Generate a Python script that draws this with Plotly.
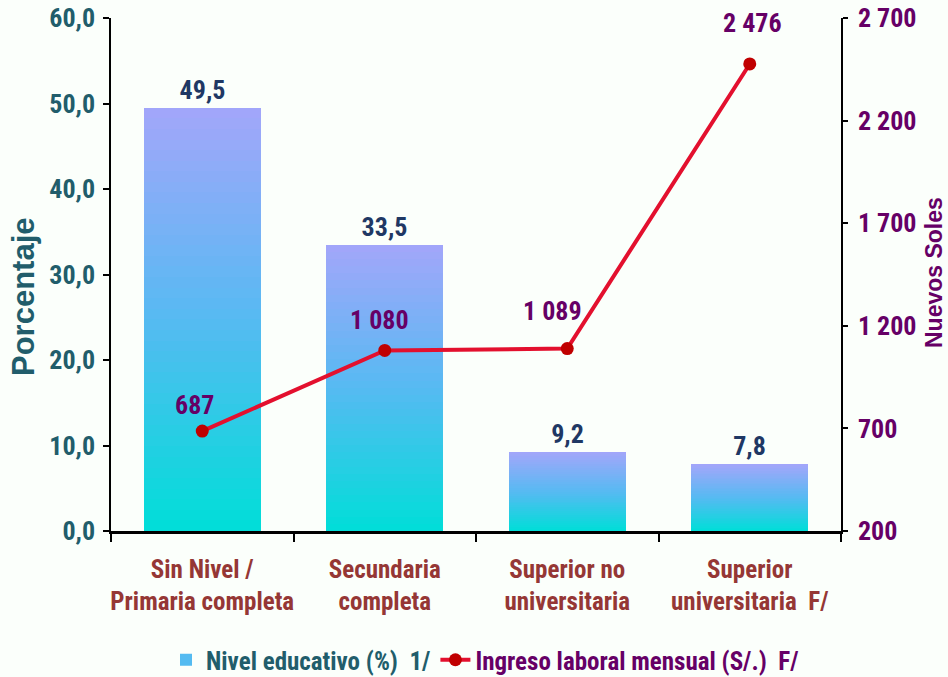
import plotly.graph_objects as go

# ---- data ----
categories = ["Sin Nivel /<br>Primaria completa", "Secundaria<br>completa",
              "Superior no<br>universitaria", "Superior<br>universitaria  F/"]
nivel_educativo = [49.5, 33.5, 9.2, 7.8]          # %
ingreso_mensual = [687, 1080, 1089, 2476]         # S/.

bar_name = "Nivel educativo (%)  1/"
line_name = "Ingreso laboral mensual (S/.)  F/"

# ---- styles ----
NARROW = "Roboto Condensed, Liberation Sans Narrow, Arial Narrow, sans-serif"
WIDE = "Liberation Sans, Arial, sans-serif"
TEAL = "#215d6b"
NAVY = "#1f3864"
PURPLE = "#660066"
BROWN = "#953735"
LINE_RED = "#e3102e"
MARK_RED = "#c00000"

W, H = 948, 677
# plot area in page pixels: x 111..841, y 18..531
ML, MR, MT, MB = 111, 948 - 841, 18, 677 - 531
PW, PH = W - ML - MR, H - MT - MB

# vertical gradient stops (fraction of bar height -> colour)
grad_stops = [(0.0, (0, 222, 216)), (0.5, (86, 186, 242)), (1.0, (163, 166, 250))]
N_LAYERS = 40
# label offsets for the line values (px)
lab_dx = [-8, -5, -15, 3]
lab_dy = [26, 30, 38, 41]


def grad_color(f):
    for (f0, c0), (f1, c1) in zip(grad_stops[:-1], grad_stops[1:]):
        if f0 <= f <= f1:
            t = (f - f0) / (f1 - f0)
            c = [round(a + (b - a) * t) for a, b in zip(c0, c1)]
            return f"rgb({c[0]},{c[1]},{c[2]})"
    c = grad_stops[-1][1]
    return f"rgb({c[0]},{c[1]},{c[2]})"


def px_x(xp):  # page pixel -> paper
    return (xp - ML) / PW


def px_y(yp):
    return (H - MB - yp) / PH


def bold(family, size, color):
    return dict(family=family, size=size, color=color, weight="bold")


fig = go.Figure()

# layered bars give each bar a vertical gradient
for k in range(N_LAYERS):
    frac = 1 - k / N_LAYERS
    band_mid = frac - 0.5 / N_LAYERS
    is_top = k == 0
    is_legend = k == N_LAYERS // 2
    fig.add_trace(go.Bar(
        x=categories,
        y=[v * frac for v in nivel_educativo],
        width=0.64,
        marker=dict(color=grad_color(band_mid), line=dict(width=0)),
        name=f"<span style='color:{TEAL}'>{bar_name}</span>",
        showlegend=is_legend,
        legendgroup="bar",
        text=[f"{v:.1f}".replace(".", ",") for v in nivel_educativo] if is_top else None,
        textposition="outside" if is_top else "none",
        textfont=bold(NARROW, 26, NAVY),
        cliponaxis=False,
        hoverinfo="skip" if not is_top else None,
        hovertemplate="%{x}: %{y:.1f}<extra></extra>" if is_top else None,
    ))

fig.add_trace(go.Scatter(
    x=categories,
    y=ingreso_mensual,
    yaxis="y2",
    mode="lines+markers",
    name=f"<span style='color:{PURPLE}'>{line_name}</span>",
    line=dict(color=LINE_RED, width=4),
    marker=dict(color=MARK_RED, size=13),
    cliponaxis=False,
))

for i, (c, v) in enumerate(zip(categories, ingreso_mensual)):
    fig.add_annotation(
        x=c, y=v, yref="y2", xref="x",
        text=f"{v:,}".replace(",", " "),
        showarrow=False, xshift=lab_dx[i], yshift=lab_dy[i],
        font=bold(NARROW, 26, PURPLE),
    )

# axis titles
fig.add_annotation(x=px_x(23), y=px_y(297), xref="paper", yref="paper",
                   xanchor="center", yanchor="middle",
                   text="Porcentaje", textangle=-90, showarrow=False,
                   font=bold(WIDE, 31, TEAL))
fig.add_annotation(x=px_x(934), y=px_y(273), xref="paper", yref="paper",
                   xanchor="center", yanchor="middle",
                   text="Nuevos Soles", textangle=-90, showarrow=False,
                   font=bold(WIDE, 23, PURPLE))

fig.update_layout(
    width=W, height=H,
    margin=dict(l=ML, r=MR, t=MT, b=MB, autoexpand=False),
    paper_bgcolor="#fbfffb",
    plot_bgcolor="rgba(0,0,0,0)",
    barmode="overlay",
    bargap=0,
    separators=", ",
    font=bold(NARROW, 26, "black"),
    showlegend=True,
    legend=dict(orientation="h", x=px_x(485), xanchor="center",
                y=px_y(660), yanchor="middle",
                font=bold(NARROW, 25, TEAL), bgcolor="rgba(0,0,0,0)",
                itemwidth=30, traceorder="normal", tracegroupgap=0),
    xaxis=dict(
        type="category", range=[-0.5, 3.5],
        showline=True, linecolor="black", linewidth=2.5,
        ticks="outside", tickson="boundaries", ticklen=8, tickwidth=1.5, tickcolor="black",
        showgrid=False, zeroline=False, tickangle=0, automargin=False,
        ticklabelstandoff=14,
        tickfont=bold(NARROW, 25, BROWN),
    ),
    yaxis=dict(
        range=[0, 60], dtick=10, tickformat=".1f",
        showline=True, linecolor="black", linewidth=1.5,
        ticks="outside", ticklen=6, tickwidth=1.5, tickcolor="black",
        showgrid=False, zeroline=False, automargin=False,
        ticklabeloverflow="allow", ticklabelstandoff=3,
        tickfont=bold(NARROW, 26, TEAL),
    ),
    yaxis2=dict(
        range=[200, 2700], tick0=200, dtick=500, tickformat=",d",
        overlaying="y", side="right",
        showline=True, linecolor="black", linewidth=1.5,
        ticks="outside", ticklen=5, tickwidth=1.5, tickcolor="black",
        showgrid=False, zeroline=False, automargin=False,
        ticklabeloverflow="allow", ticklabelstandoff=5,
        tickfont=bold(NARROW, 26, PURPLE),
    ),
)

fig.write_html("out.html", config={"displayModeBar": False},
               post_script="document.body.style.margin='0';")
